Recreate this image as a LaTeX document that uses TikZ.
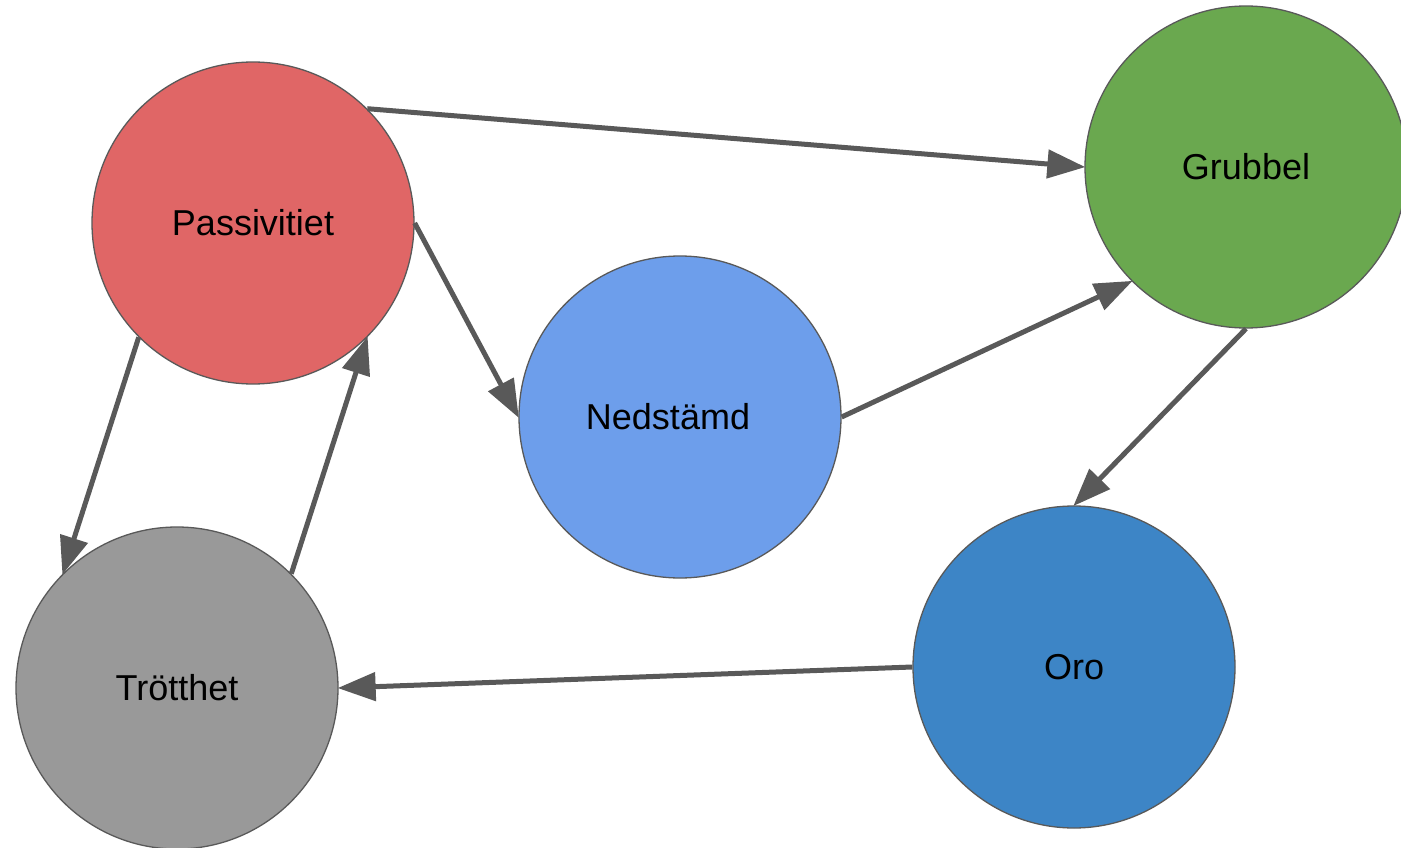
\documentclass[tikz,border=0pt]{standalone}
\usepackage{fontspec}
\setmainfont{Liberation Sans}
\usetikzlibrary{arrows.meta}
\definecolor{cred}{HTML}{E06666}
\definecolor{cgreen}{HTML}{6AA84F}
\definecolor{cblue}{HTML}{6D9EEB}
\definecolor{cdblue}{HTML}{3D85C6}
\definecolor{cgray}{HTML}{999999}
\definecolor{cline}{HTML}{595959}
\tikzset{
  bubble/.style={circle, draw=cline, line width=1.3pt, minimum size=322pt, inner sep=0pt, font=\fontsize{36}{40}\selectfont, text=black},
  conn/.style={draw=cline, line width=5pt, -{Triangle[length=38pt,width=28pt]}, shorten >=-1pt}
}
\begin{document}
\begin{tikzpicture}[x=1pt,y=-1pt]
\useasboundingbox (0,0) rectangle (1401,848);
\clip (0,0) rectangle (1401,848);
\fill[white] (0,0) rectangle (1401,848);
\node[bubble, fill=cred] (p) at (253,223) {Passivitiet};
\node[bubble, fill=cgreen] (g) at (1246,167) {Grubbel};
\node[bubble, fill=cblue] (n) at (680,417) {\hspace*{-24pt}Nedstämd};
\node[bubble, fill=cdblue] (o) at (1074,667) {Oro};
\node[bubble, fill=cgray] (t) at (177,688) {Trötthet};
\draw[conn] (p.45) -- (g.west);
\draw[conn] (p.east) -- (n.west);
\draw[conn] (n.east) -- (g.225);
\draw[conn] (g.south) -- (o.north);
\draw[conn] (o.west) -- (t.east);
\draw[conn] (p.225) -- (t.135);
\draw[conn] (t.45) -- (p.-45);
\end{tikzpicture}
\end{document}
